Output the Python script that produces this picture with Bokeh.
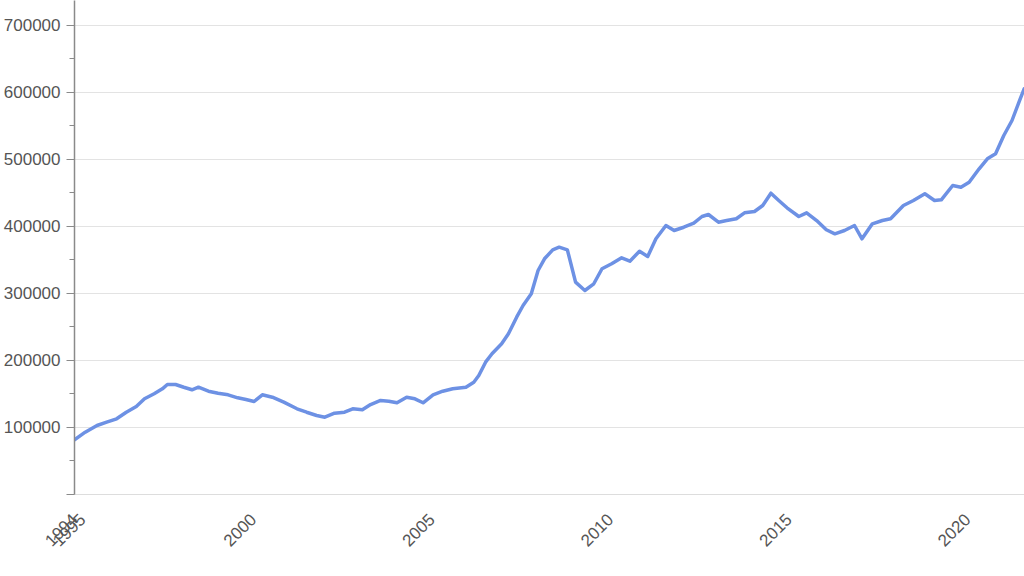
import math
from bokeh.plotting import figure
from bokeh.models import FixedTicker, Range1d, ColumnDataSource
from bokeh.embed import file_html
from bokeh.resources import INLINE

# ---- data (approximate) ----
years = [
    1995.00, 1995.30, 1995.63, 1995.90, 1996.18, 1996.45, 1996.73, 1996.96,
    1997.23, 1997.46, 1997.60, 1997.83, 1998.06, 1998.29, 1998.47, 1998.75,
    1999.02, 1999.30, 1999.57, 1999.80, 2000.03, 2000.26, 2000.54, 2000.86,
    2001.23, 2001.50, 2001.78, 2002.01, 2002.28, 2002.56, 2002.79, 2003.06,
    2003.29, 2003.57, 2003.80, 2004.03, 2004.30, 2004.53, 2004.76, 2005.04,
    2005.31, 2005.59, 2005.96, 2006.18, 2006.32, 2006.51, 2006.69, 2006.96,
    2007.15, 2007.38, 2007.56, 2007.79, 2007.98, 2008.16, 2008.39, 2008.57,
    2008.80, 2009.03, 2009.29, 2009.54, 2009.77, 2010.04, 2010.32, 2010.55,
    2010.82, 2011.05, 2011.28, 2011.56, 2011.79, 2012.06, 2012.34, 2012.57,
    2012.75, 2013.03, 2013.26, 2013.53, 2013.76, 2014.04, 2014.27, 2014.50,
    2014.72, 2014.95, 2015.28, 2015.50, 2015.78, 2016.05, 2016.29, 2016.56,
    2016.84, 2017.05, 2017.34, 2017.62, 2017.85, 2018.21, 2018.49, 2018.81,
    2019.08, 2019.27, 2019.59, 2019.82, 2020.05, 2020.33, 2020.56, 2020.79,
    2021.02, 2021.25, 2021.48, 2021.59,
]
values = [
    81600, 93000, 103000, 107900, 113000, 122800, 131300, 142800,
    150300, 157700, 164200, 164200, 160100, 156300, 160100, 154200,
    151200, 148800, 144300, 141800, 138800, 148800, 145200, 137800,
    127900, 122800, 117900, 115400, 121300, 122800, 127900, 126400,
    134300, 140300, 139300, 136900, 145200, 142800, 136900, 148800,
    154200, 157800, 160100, 167600, 177600, 197500, 210000, 224900,
    239800, 264600, 282100, 299500, 334300, 351800, 365200, 369100,
    365200, 316900, 304500, 314500, 336900, 344300, 353300, 348200,
    363100, 355200, 381600, 401500, 394000, 398900, 404900, 414900,
    417900, 406400, 408900, 411500, 420400, 422400, 431300, 449700,
    438800, 427900, 414900, 420400, 408900, 395100, 389100, 394000,
    401500, 381600, 404000, 408900, 411500, 431300, 438800, 448800,
    438800, 439800, 461200, 458600, 466100, 486100, 501000, 508500,
    535800, 558200, 590600, 605500,
]
# the reference shows "1994" and "1995" overlapping at the left end of the axis
x_ticks = [1995.0, 1995.22, 2000, 2005, 2010, 2015, 2020]
x_labels = ["1994", "1995", "2000", "2005", "2010", "2015", "2020"]
y_ticks = [0, 100000, 200000, 300000, 400000, 500000, 600000, 700000]
y_labels = ["", "100000", "200000", "300000", "400000", "500000", "600000", "700000"]
y_minor = [50000, 150000, 250000, 350000, 450000, 550000, 650000]

FONT = "Liberation Sans"
TXT = "#555555"

p = figure(width=1024, height=576, output_backend="svg", toolbar_location=None,
           x_range=Range1d(1995.0, 2021.6), y_range=Range1d(0, 737300),
           min_border_left=0, min_border_right=0, min_border_top=0,
           min_border_bottom=82)
p.outline_line_color = None
p.background_fill_color = "white"
p.border_fill_color = "white"

src = ColumnDataSource(dict(x=years, y=values))
p.line("x", "y", source=src, line_color="#6d91e4", line_width=3.5,
       line_join="round", line_cap="round")

# grids
p.xgrid.grid_line_color = None
p.ygrid.ticker = FixedTicker(ticks=y_ticks)
p.ygrid.grid_line_color = "#e3e3e3"
p.ygrid.grid_line_width = 1

# y axis
ya = p.yaxis[0]
ya.ticker = FixedTicker(ticks=y_ticks, minor_ticks=y_minor)
ya.major_label_overrides = {t: l for t, l in zip(y_ticks, y_labels)}
ya.major_label_text_font = FONT
ya.major_label_text_font_size = "17px"
ya.major_label_text_color = TXT
ya.axis_line_color = "#8a8a8a"
ya.axis_line_width = 1.5
ya.major_tick_line_color = "#8a8a8a"
ya.minor_tick_line_color = "#8a8a8a"
ya.major_tick_out = 8
ya.major_tick_in = 0
ya.minor_tick_out = 5
ya.minor_tick_in = 0
ya.major_label_standoff = 6

# x axis
xa = p.xaxis[0]
xa.ticker = FixedTicker(ticks=x_ticks, minor_ticks=[])
xa.major_label_overrides = {t: l for t, l in zip(x_ticks, x_labels)}
xa.major_label_orientation = math.pi / 4
xa.major_label_text_font = FONT
xa.major_label_text_font_size = "17px"
xa.major_label_text_color = TXT
xa.axis_line_color = "#dddddd"
xa.major_tick_line_color = None
xa.major_tick_out = 0
xa.major_tick_in = 0
xa.minor_tick_line_color = None
xa.major_label_standoff = 22

open("out.html", "w").write(file_html(p, INLINE))
